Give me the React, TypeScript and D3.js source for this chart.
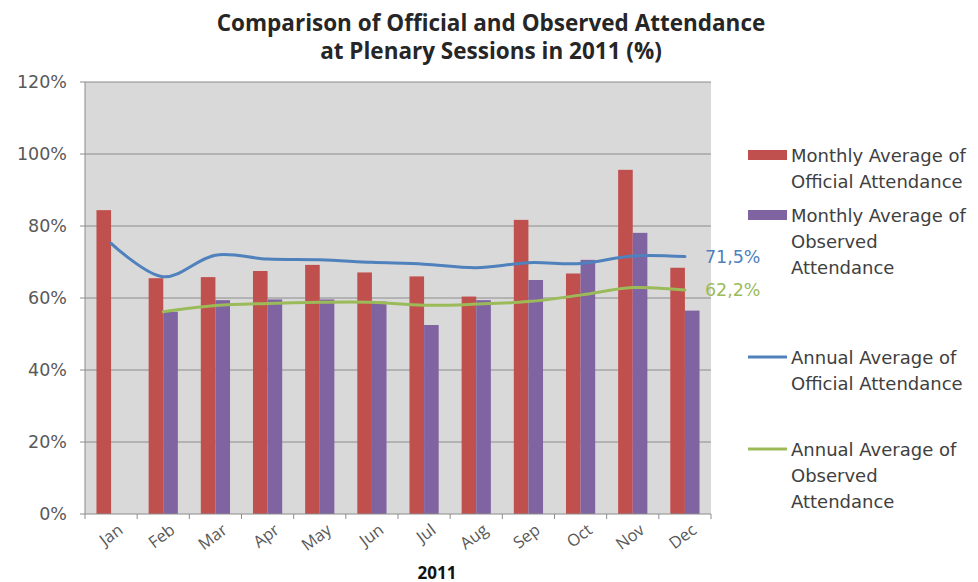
import React from 'react';
import * as d3 from 'd3';

const months = ['Jan', 'Feb', 'Mar', 'Apr', 'May', 'Jun', 'Jul', 'Aug', 'Sep', 'Oct', 'Nov', 'Dec'];
const monthlyOfficial: number[] = [84.4, 65.5, 65.8, 67.5, 69.2, 67.1, 66.0, 60.4, 81.7, 66.8, 95.6, 68.4];
const monthlyObserved: (number | null)[] = [null, 56.2, 59.4, 59.6, 59.6, 59.0, 52.5, 59.4, 65.0, 70.6, 78.1, 56.5];
const annualOfficial: (number | null)[] = [75.2, 65.9, 71.9, 70.8, 70.6, 69.9, 69.4, 68.4, 69.8, 69.6, 71.7, 71.5];
const annualObserved: (number | null)[] = [null, 56.2, 57.9, 58.5, 58.8, 58.8, 58.0, 58.3, 59.0, 60.8, 62.9, 62.2];
const yTicks = [0, 20, 40, 60, 80, 100, 120];
const titleLines = ['Comparison of Official and Observed Attendance', 'at Plenary Sessions in 2011 (%)'];
const xAxisTitle = '2011';
const endLabels = ['71,5%', '62,2%'];
const legendItems = [
  { lines: ['Monthly Average of', 'Official Attendance'], kind: 'rect', color: '#C0504D' },
  { lines: ['Monthly Average of', 'Observed', 'Attendance'], kind: 'rect', color: '#8064A2' },
  { lines: ['Annual Average of', 'Official Attendance'], kind: 'line', color: '#4F81BD' },
  { lines: ['Annual Average of', 'Observed', 'Attendance'], kind: 'line', color: '#9BBB59' },
];

const FONT = '"Open Sans", "DejaVu Sans", sans-serif';
const WIDE = '"DejaVu Sans", "Open Sans", sans-serif';

export default function App() {
  const W = 978, H = 582;
  const left = 85, right = 711, top = 82, bottom = 514;

  const x0 = d3.scaleBand<string>().domain(months).range([left, right]).paddingInner(0.44).paddingOuter(0.22);
  const x1 = d3.scaleBand<string>().domain(['off', 'obs']).range([0, x0.bandwidth()]);
  const y = d3.scaleLinear().domain([0, 120]).range([bottom, top]);
  const cx = (m: string) => (x0(m) as number) + x0.bandwidth() / 2;
  const step = x0.step();

  const lineGen = d3.line<[string, number | null]>()
    .defined(d => d[1] !== null)
    .x(d => cx(d[0]))
    .y(d => y(d[1] as number))
    .curve(d3.curveCatmullRom.alpha(0.5));

  const offPairs = months.map((m, i) => [m, annualOfficial[i]] as [string, number | null]);
  const obsPairs = months.map((m, i) => [m, annualObserved[i]] as [string, number | null]);

  const legendY = [155, 215, 357, 449];
  const lineH = 26;

  const lastM = months[months.length - 1];

  return (
    <svg width={W} height={H} style={{ display: 'block', position: 'absolute', left: 0, top: 0, background: '#fff' }} fontFamily={FONT}>
      {/* title */}
      {titleLines.map((t, i) => (
        <text key={i} x={491} y={22 + i * 28} textAnchor="middle" dominantBaseline="central" fontSize={22.5} fontWeight="bold" fill="#262626">{t}</text>
      ))}
      {/* plot background */}
      <rect x={left} y={top} width={right - left} height={bottom - top} fill="#D9D9D9" />
      {/* gridlines */}
      {yTicks.map(t => (
        <g key={t}>
          {t > 0 && <line x1={left} x2={right} y1={y(t)} y2={y(t)} stroke="#8C8C8C" strokeWidth={1} />}
          <line x1={left - 5} x2={left} y1={y(t)} y2={y(t)} stroke="#8C8C8C" />
          <text x={67} y={y(t)} textAnchor="end" dominantBaseline="central" fontSize={17.5} fontFamily={WIDE} fill="#595959">{t}%</text>
        </g>
      ))}
      {/* bars */}
      {months.map((m, i) => (
        <g key={m} transform={`translate(${x0(m)},0)`}>
          <rect x={x1('off')} y={y(monthlyOfficial[i])} width={x1.bandwidth()} height={bottom - y(monthlyOfficial[i])} fill="#C0504D" />
          {monthlyObserved[i] !== null && (
            <rect x={x1('obs')} y={y(monthlyObserved[i] as number)} width={x1.bandwidth()} height={bottom - y(monthlyObserved[i] as number)} fill="#8064A2" />
          )}
        </g>
      ))}
      {/* lines */}
      <path d={lineGen(offPairs) || ''} fill="none" stroke="#4F81BD" strokeWidth={3} strokeLinejoin="round" strokeLinecap="round" />
      <path d={lineGen(obsPairs) || ''} fill="none" stroke="#9BBB59" strokeWidth={3} strokeLinejoin="round" strokeLinecap="round" />
      {/* data labels */}
      <text x={cx(lastM) + 20} y={y(annualOfficial[11] as number)} dominantBaseline="central" fontSize={17.5} fontFamily={WIDE} fill="#4F81BD">{endLabels[0]}</text>
      <text x={cx(lastM) + 20} y={y(annualObserved[11] as number)} dominantBaseline="central" fontSize={17.5} fontFamily={WIDE} fill="#9BBB59">{endLabels[1]}</text>
      {/* axes */}
      <line x1={left} x2={left} y1={top} y2={bottom} stroke="#8C8C8C" />
      <line x1={left} x2={right} y1={bottom} y2={bottom} stroke="#8C8C8C" />
      {d3.range(months.length + 1).map(i => (
        <line key={i} x1={left + i * step} x2={left + i * step} y1={bottom} y2={bottom + 5} stroke="#8C8C8C" />
      ))}
      {months.map(m => (
        <text key={m} transform={`translate(${cx(m) + 9},${bottom + 13}) rotate(-37)`} textAnchor="end" dominantBaseline="central" fontSize={16.5} fill="#595959">{m}</text>
      ))}
      <text x={437} y={572} textAnchor="middle" dominantBaseline="central" fontSize={17} fontWeight="bold" fill="#111">{xAxisTitle}</text>
      {/* legend */}
      {legendItems.map((it, i) => (
        <g key={i}>
          {it.kind === 'rect'
            ? <rect x={748} y={legendY[i] - 5} width={39} height={10} fill={it.color} />
            : <line x1={748} x2={787} y1={legendY[i]} y2={legendY[i]} stroke={it.color} strokeWidth={3} />}
          {it.lines.map((l, j) => (
            <text key={j} x={791} y={legendY[i] + j * lineH} dominantBaseline="central" fontSize={18} fontFamily={WIDE} fill="#404040">{l}</text>
          ))}
        </g>
      ))}
    </svg>
  );
}
